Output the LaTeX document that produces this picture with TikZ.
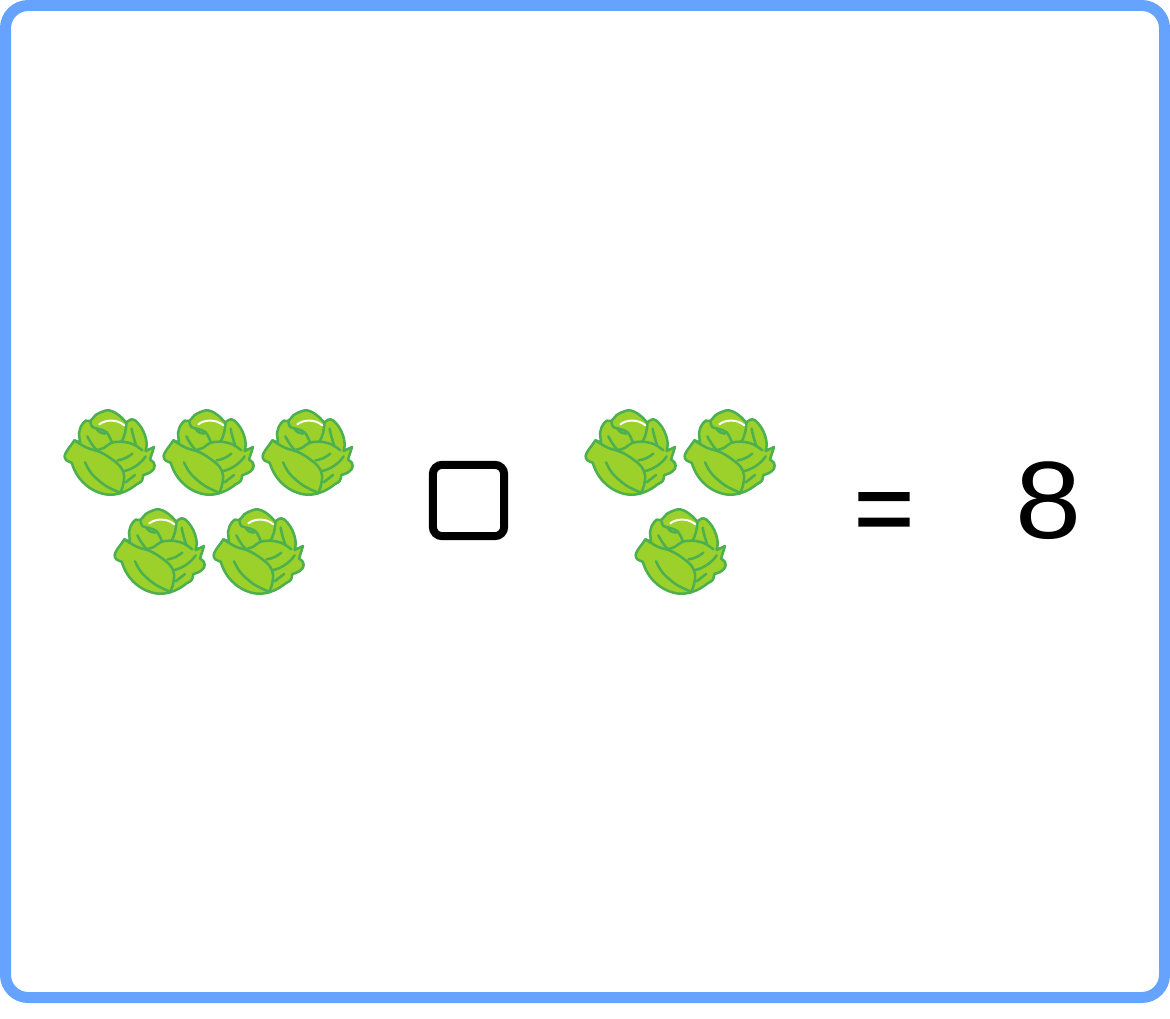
\documentclass[tikz,border=0pt]{standalone}
\usepackage{fontspec}
\setmainfont{Liberation Sans}
\newfontfamily\boldeq[FakeBold=1.6]{Liberation Sans}
\definecolor{framecol}{HTML}{66A3FF}
\definecolor{cabfill}{HTML}{9BD12A}
\definecolor{cabline}{HTML}{4CAF50}
\tikzset{
  cabbageline/.style={draw=cabline,line width=1.9pt,line join=round,line cap=round},
  cabbage/.pic={
    \begin{scope}[x=0.25pt,y=-0.25pt,shift={(-165,-155)}]
      \path[cabbageline,fill=cabfill]
        plot[smooth,tension=.6] coordinates {(72,100) (78,78) (92,61) (106,62) (122,44) (145,33) (162,30) (182,38) (200,52) (214,67)}
        -- plot[smooth,tension=.6] coordinates {(214,67) (226,58) (240,60) (258,80) (270,105) (275,130) (272,152)}
        -- (297,140) -- (285,178)
        -- plot[smooth,tension=.6] coordinates {(285,178) (297,188) (297,205) (282,218) (265,224)}
        -- plot[smooth,tension=.6] coordinates {(265,224) (260,242) (245,252) (225,266) (195,279) (160,283) (125,274) (95,256) (72,232) (58,208) (50,187)}
        -- plot[smooth,tension=.6] coordinates {(50,187) (34,180) (29,167) (36,151) (47,136) (58,120)}
        -- (75,127) -- (72,100) -- cycle;
      \path[cabbageline]
        plot[smooth,tension=.6] coordinates {(58,120) (95,142) (135,155) (170,176) (197,200) (207,225) (204,255) (195,279)};
      \path[cabbageline] plot[smooth,tension=.6] coordinates {(90,186) (110,220) (150,255) (195,277)};
      \path[cabbageline]
        plot[smooth,tension=.6] coordinates {(124,150) (148,142) (168,128) (200,124) (235,132) (262,150)};
      \path[cabbageline] (188,180) .. controls (205,178) and (220,170) .. (232,160);
      \path[cabbageline] (207,212) .. controls (230,208) and (258,190) .. (272,168);
      \path[cabbageline] (212,246) -- (240,224);
      \path[cabbageline] plot[smooth,tension=.6] coordinates {(106,62) (112,80) (132,86) (155,96) (170,124)};
      \path[cabbageline] (97,108) .. controls (104,122) and (114,138) .. (124,148);
      \path[cabbageline] (125,86) .. controls (132,96) and (140,100) .. (150,100);
      \path[cabbageline] (214,67) .. controls (214,90) and (208,108) .. (200,124);
      \path[cabbageline] (230,85) .. controls (232,100) and (238,118) .. (243,134);
      \path[draw=white,line width=1.5pt,line cap=round]
        (133,72) .. controls (150,58) and (185,55) .. (208,75);
    \end{scope}
  },
  blankbox/.style={draw=black,line width=6pt,rounded corners=7pt,minimum width=53.5pt,minimum height=53.5pt,inner sep=0pt},
  bigtext/.style={font=\fontsize{82.5pt}{82.5pt}\selectfont,text=black,inner sep=0pt},
}
\begin{document}
\begin{tikzpicture}[x=0.75pt,y=-0.75pt]
\useasboundingbox (0,0) rectangle (1170,1019);
\fill[white] (0,0) rectangle (1170,1019);
\node[draw=framecol,line width=8.25pt,rounded corners=17pt,minimum width=869.25pt,minimum height=744pt,inner sep=0pt] (frame) at (585,501.5) {};
\pic (c1) at (110,452) {cabbage};
\pic (c2) at (209,452) {cabbage};
\pic (c3) at (308,452) {cabbage};
\pic (c4) at (160,551) {cabbage};
\pic (c5) at (259,551) {cabbage};
\node[blankbox] (blank) at (468.5,500.5) {};
\pic (c6) at (631,452) {cabbage};
\pic (c7) at (730,452) {cabbage};
\pic (c8) at (681,551) {cabbage};
\node[bigtext,xscale=.93,yscale=.93] (eq) at (884,518) {\boldeq =};
\node[bigtext,xscale=1.08] (eight) at (1048.5,500.5) {8};
\end{tikzpicture}
\end{document}
